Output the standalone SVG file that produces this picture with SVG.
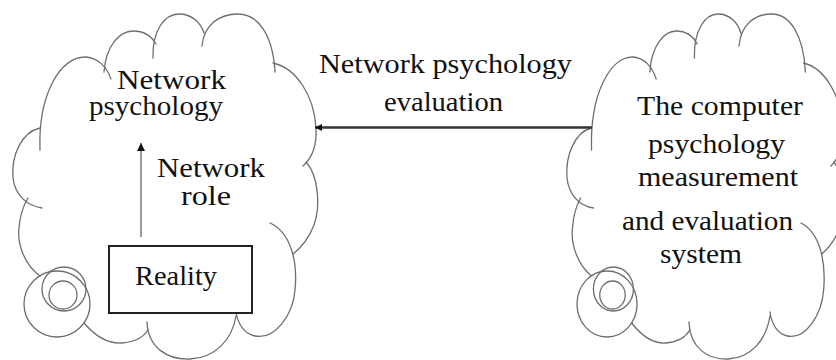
<svg xmlns="http://www.w3.org/2000/svg" xmlns:xlink="http://www.w3.org/1999/xlink" width="836" height="360" viewBox="0 0 836 360">
<style>
.cl{fill:none;stroke:#6e6e6e;stroke-width:1.3;vector-effect:non-scaling-stroke;stroke-linecap:round}
.t{font-family:"Liberation Serif","Times New Roman",serif;font-size:28px;fill:#111}
.box{fill:#fff;stroke:#222;stroke-width:2}
</style>
<defs>
<marker id="ahV" viewBox="0 0 10 10" refX="10" refY="5" markerUnits="userSpaceOnUse" markerWidth="10" markerHeight="8" orient="auto">
<path d="M0,0 L10,5 L0,10 z" fill="#111"/>
</marker>
<marker id="ahH" viewBox="0 0 10 10" refX="10" refY="5" markerUnits="userSpaceOnUse" markerWidth="9" markerHeight="7" orient="auto">
<path d="M0,0 L10,5 L0,10 z" fill="#111"/>
</marker>
<g id="cloudShape">
<path class="cl" d="M40,150 C38,95 60,56 86,57 C98,58 107,67 111,79"/>
<path class="cl" d="M104,72 C106,45 120,31 133,31 C145,31 152,37 156,44"/>
<path class="cl" d="M153,58 C152,30 165,14 179,14 C192,14 201,23 204,33"/>
<path class="cl" d="M202,46 C204,24 220,14 238,14 C258,14 273,35 275,72"/>
<path class="cl" d="M273,63 C296,68 314,95 316,128 C317,145 313,157 303,166"/>
<path class="cl" d="M306,162 C318,175 321,205 314,225 C309,238 302,247 293,254"/>
<path class="cl" d="M270,223 C290,232 298,260 295,290 C293,315 275,340 255,336 C245,334 238,325 236,312"/>
<path class="cl" d="M147,322 C148,348 168,360 190,359 C215,358 232,340 236,316"/>
<path class="cl" d="M84,323 C96,337 108,344 122,343 C134,342 143,338 148,330"/>
<path class="cl" d="M40,276 C25,265 17,245 19,228 C20,215 23,206 28,198"/>
<path class="cl" d="M40,128 C22,132 11,155 13,178 C15,195 27,206 42,208"/>
<circle class="cl" cx="57" cy="304" r="33"/>
<circle class="cl" cx="64" cy="289" r="22"/>
<circle class="cl" cx="63" cy="295" r="14"/>
</g>
</defs>

<g id="node-network-psychology">
<use xlink:href="#cloudShape" href="#cloudShape"/>
<text class="t" x="117" y="89" textLength="109" lengthAdjust="spacingAndGlyphs">Network</text>
<text class="t" x="89" y="115" textLength="134" lengthAdjust="spacingAndGlyphs">psychology</text>
</g>

<g id="node-reality">
<rect class="box" x="109" y="246" width="143" height="67"/>
<text class="t" x="135" y="285" textLength="82" lengthAdjust="spacingAndGlyphs">Reality</text>
</g>

<g id="node-system">
<use xlink:href="#cloudShape" href="#cloudShape" transform="translate(567,0) scale(0.91,1) translate(-13,0)"/>
<text class="t" x="637" y="115" textLength="166" lengthAdjust="spacingAndGlyphs">The computer</text>
<text class="t" x="648" y="153" textLength="137" lengthAdjust="spacingAndGlyphs">psychology</text>
<text class="t" x="638" y="186" textLength="160" lengthAdjust="spacingAndGlyphs">measurement</text>
<text class="t" x="622" y="230" textLength="171" lengthAdjust="spacingAndGlyphs">and evaluation</text>
<text class="t" x="660" y="263" textLength="82" lengthAdjust="spacingAndGlyphs">system</text>
</g>

<g id="connectors">
<line x1="141" y1="237" x2="141" y2="143" stroke="#777" stroke-width="1.5" marker-end="url(#ahV)"/>
<text class="t" x="157" y="177" textLength="108" lengthAdjust="spacingAndGlyphs">Network</text>
<text class="t" x="181" y="205" textLength="50" lengthAdjust="spacingAndGlyphs">role</text>
<line x1="592" y1="127.5" x2="315" y2="127.5" stroke="#333" stroke-width="2.5" marker-end="url(#ahH)"/>
<text class="t" x="319" y="73" textLength="253" lengthAdjust="spacingAndGlyphs">Network psychology</text>
<text class="t" x="384" y="111" textLength="119" lengthAdjust="spacingAndGlyphs">evaluation</text>
</g>
</svg>
